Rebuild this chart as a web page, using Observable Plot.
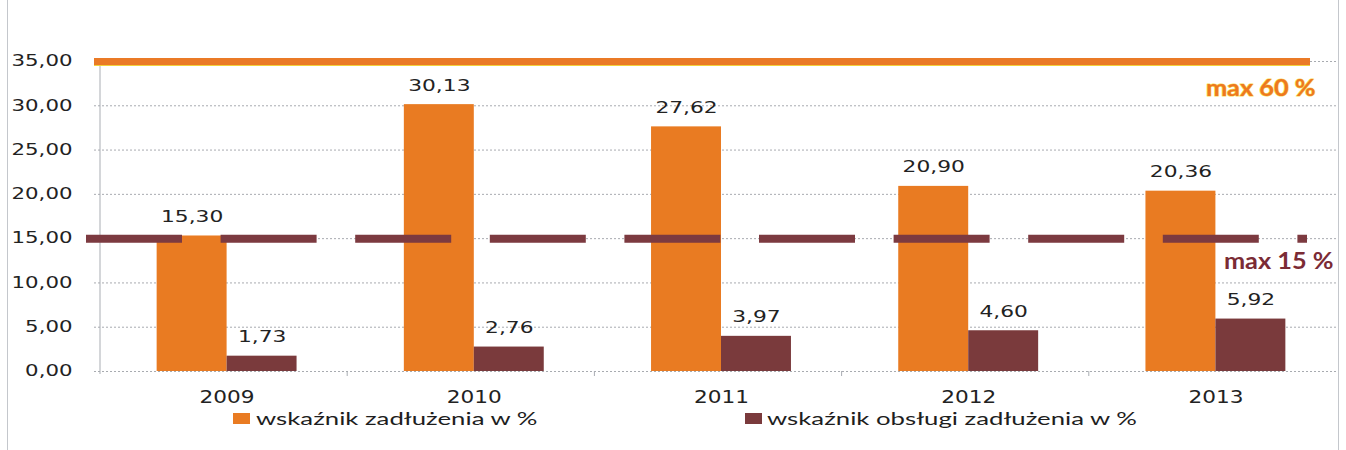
<!DOCTYPE html>
<html>
<head>
<meta charset="utf-8">
<script src="https://cdn.jsdelivr.net/npm/d3@7"></script>
<script src="https://cdn.jsdelivr.net/npm/@observablehq/plot@0.6"></script>
<style>
  html, body { margin: 0; padding: 0; background: #fff; }
  #wrap { position: relative; width: 1346px; height: 450px; overflow: hidden; background: #fff; }
  #border { position: absolute; left: 7px; top: 0; width: 1330px; height: 450px;
            border-left: 1px solid #c4c7cc; border-right: 1px solid #c4c7cc; pointer-events: none; }
  #legend { position: relative; height: 40px; font-family: Lato, "Open Sans", sans-serif; font-size: 18px; color: #1e1e1e; }
  .sw { position: absolute; top: 3px; width: 17px; height: 11px; }
  .lt { position: absolute; top: -1px; line-height: 18px; white-space: nowrap; transform-origin: 0 50%; }
</style>
</head>
<body>
<div id="wrap">
  <div id="chart"></div>
  <div id="legend"></div>
  <div id="border"></div>
</div>
<script>
// ---- data ----
const years = ["2009", "2010", "2011", "2012", "2013"];
const zadluzenie = [15.30, 30.13, 27.62, 20.90, 20.36];
const obsluga = [1.73, 2.76, 3.97, 4.60, 5.92];
const seriesNames = ["wskaźnik zadłużenia w %", "wskaźnik obsługi zadłużenia w %"];
const yTicks = [0, 5, 10, 15, 20, 25, 30, 35];
const limitValues = [35, 15];
const limitLabels = ["max 60 %", "max 15 %"];

// ---- styles ----
const ORANGE = "#E97B22";
const BROWN = "#7A3A3C";
const LINE_ORANGE = "#EA7A26";
const LINE_BROWN = "#7C3A40";
const TEXT = "#222";

const W = 1346, H = 410, ML = 103, MR = 7, MT = 61, MB = 39;
const padInner = 0.434;
const step = (W - ML - MR) / years.length;
const bw = step * (1 - padInner);

const fmt = v => v.toFixed(2).replace(".", ",");

const rows0 = years.map((y, i) => ({year: y, value: zadluzenie[i]}));
const rows1 = years.map((y, i) => ({year: y, value: obsluga[i]}));

const axisLine = (index, scales, values, dims) => {
  const g = d3.create("svg:g");
  const x0 = dims.marginLeft - 3;
  g.append("line")
    .attr("x1", x0).attr("x2", x0)
    .attr("y1", scales.y(yTicks[yTicks.length - 1]) + 3)
    .attr("y2", scales.y(0) + 3)
    .attr("stroke", "#a9adb3").attr("stroke-width", 1);
  const st = (dims.width - dims.marginLeft - dims.marginRight) / years.length;
  for (let i = 1; i < years.length; i++) {
    const xx = dims.marginLeft + i * st - 3;
    g.append("line").attr("x1", xx).attr("x2", xx)
      .attr("y1", scales.y(0)).attr("y2", scales.y(0) + 5)
      .attr("stroke", "#a9adb3");
  }
  return g.node();
};

const chart = Plot.plot({
  width: W, height: H,
  marginLeft: ML, marginRight: MR, marginTop: MT, marginBottom: MB,
  style: {fontFamily: "'DejaVu Sans', Verdana, sans-serif", color: TEXT, background: "transparent"},
  x: {type: "band", domain: years, paddingInner: padInner, paddingOuter: padInner / 2, round: false, label: null},
  y: {domain: [0, 35], label: null},
  marks: [
    Plot.ruleY(yTicks, {stroke: "#a8abb0", strokeWidth: 1, strokeDasharray: "2,2", insetLeft: -9}),
    axisLine,
    Plot.axisY({ticks: yTicks, tickFormat: fmt, tickSize: 0, tickPadding: 31, fontSize: 15, label: null}),
    Plot.axisX({tickSize: 0, tickPadding: 19, fontSize: 18, label: null}),
    Plot.barY(rows0, {x: "year", y: "value", fill: ORANGE, insetRight: bw / 2}),
    Plot.barY(rows1, {x: "year", y: "value", fill: BROWN, insetLeft: bw / 2}),
    // limit lines
    Plot.ruleY([limitValues[0]], {stroke: "#f3d23a", strokeWidth: 2, dy: 3.5, insetLeft: -9, insetRight: 29}),
    Plot.ruleY([limitValues[0]], {stroke: LINE_ORANGE, strokeWidth: 7, insetLeft: -9, insetRight: 29}),
    Plot.ruleY([limitValues[1]], {stroke: LINE_BROWN, strokeWidth: 8, strokeDasharray: "96,38.6", insetLeft: -17, insetRight: 32}),
    // value labels
    Plot.text(rows0, {x: "year", y: "value", text: d => fmt(d.value), dx: -bw / 4, dy: -14,
      lineAnchor: "bottom", fontSize: 15, fill: TEXT, ariaDescription: "values"}),
    Plot.text(rows1, {x: "year", y: "value", text: d => fmt(d.value), dx: bw / 4, dy: -14,
      lineAnchor: "bottom", fontSize: 15, fill: TEXT, ariaDescription: "values"}),
    // limit labels
    Plot.text([limitLabels[0]], {y: limitValues[0], text: d => d, frameAnchor: "right", textAnchor: "end",
      dx: -24, dy: 27, fontFamily: "Lato, sans-serif", fontWeight: "bold", fontSize: 22,
      fill: "#EE7820", stroke: "#f7dc55", strokeWidth: 1.2, ariaDescription: "limits"}),
    Plot.text([limitLabels[1]], {y: limitValues[1], text: d => d, frameAnchor: "right", textAnchor: "end",
      dx: -6, dy: 23, fontFamily: "Lato, sans-serif", fontWeight: "bold", fontSize: 22,
      fill: "#7B2B35", ariaDescription: "limits"})
  ]
});

document.getElementById("chart").appendChild(chart);

// legend
const legend = document.getElementById("legend");
const items = [
  {name: seriesNames[0], color: ORANGE, sx: 233, tx: 256},
  {name: seriesNames[1], color: BROWN, sx: 745, tx: 767}
];
items.forEach(it => {
  const s = document.createElement("span");
  s.className = "sw"; s.style.left = it.sx + "px"; s.style.background = it.color;
  legend.appendChild(s);
  const t = document.createElement("span");
  t.className = "lt"; t.style.left = it.tx + "px"; t.textContent = it.name;
  t.style.transform = "scaleX(1.43)";
  legend.appendChild(t);
});

// horizontal stretch of text to mimic the wide look of the original
function stretch(selector, factor) {
  chart.querySelectorAll(selector).forEach(t => {
    const w = t.getComputedTextLength();
    if (w > 0) {
      t.setAttribute("textLength", (w * factor).toFixed(1));
      t.setAttribute("lengthAdjust", "spacingAndGlyphs");
    }
  });
}
stretch('g[aria-label="y-axis tick label"] text', 1.42);
stretch('g[aria-label="x-axis tick label"] text', 1.2);
stretch('g[aria-description="values"] text', 1.45);
stretch('g[aria-description="limits"] text', 1.15);
</script>
</body>
</html>
